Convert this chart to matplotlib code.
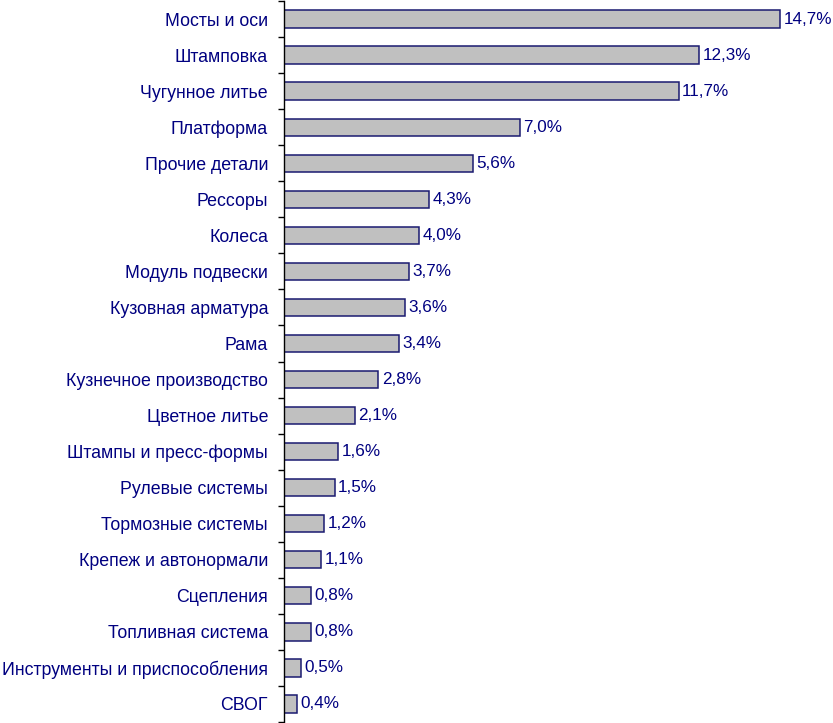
import matplotlib
matplotlib.use("Agg")
from matplotlib import pyplot as plt
import numpy as np

categories = [
    "Мосты и оси", "Штамповка", "Чугунное литье", "Платформа", "Прочие детали",
    "Рессоры", "Колеса", "Модуль подвески", "Кузовная арматура", "Рама",
    "Кузнечное производство", "Цветное литье", "Штампы и пресс-формы",
    "Рулевые системы", "Тормозные системы", "Крепеж и автонормали",
    "Сцепления", "Топливная система", "Инструменты и приспособления", "СВОГ",
]
shares = [14.7, 12.3, 11.7, 7.0, 5.6, 4.3, 4.0, 3.7, 3.6, 3.4,
          2.8, 2.1, 1.6, 1.5, 1.2, 1.1, 0.8, 0.8, 0.5, 0.4]

navy = "#000080"
plt.rcParams["font.family"] = ["Liberation Sans", "DejaVu Sans"]

fig = plt.figure(figsize=(8.33, 7.23), dpi=100)
ax = fig.add_axes([284 / 833, 1 / 723, 549 / 833, 721 / 723])

y = np.arange(len(categories))
ax.barh(y, shares, height=0.48, color="#c0c0c0", edgecolor="#1a1a70", linewidth=1.1)

for yi, v in zip(y, shares):
    ax.text(v + 0.1, yi, f"{v:.1f}%".replace(".", ","), va="center", ha="left",
            color=navy, fontsize=12.3)

ax.set_ylim(len(categories) - 0.5, -0.5)
ax.set_xlim(0, 549 / 33.74)

ax.set_yticks(y)
ax.set_yticklabels(categories, color=navy, fontsize=12.8)
ax.tick_params(axis="y", which="major", length=0, pad=11.5)
ax.set_yticks(np.arange(-0.5, len(categories), 1), minor=True)
ax.tick_params(axis="y", which="minor", length=4.5, width=1, color="black", direction="out")

ax.set_xticks([])
for side in ["top", "right", "bottom"]:
    ax.spines[side].set_visible(False)
ax.spines["left"].set_color("black")
ax.spines["left"].set_linewidth(1)

fig.savefig("out.png", dpi=100)
